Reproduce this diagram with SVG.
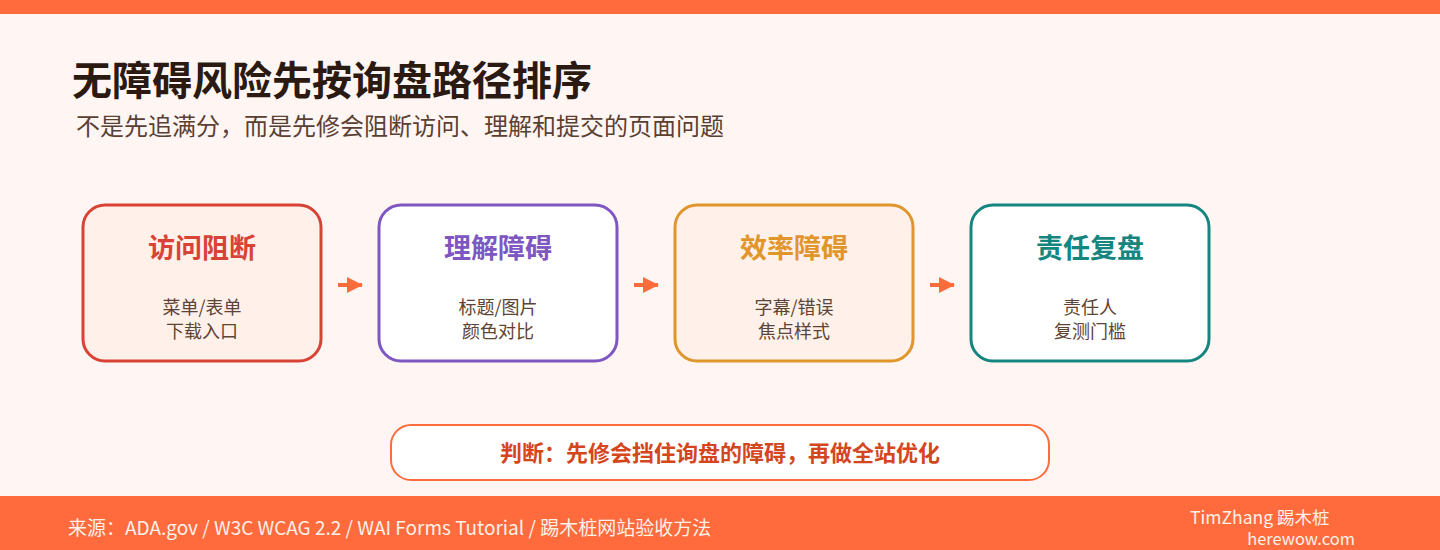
<svg xmlns="http://www.w3.org/2000/svg" width="1440" height="550" viewBox="0 0 1440 550">
<defs>
<style>
text{font-family:"Noto Sans CJK SC","Noto Sans",sans-serif}
.box{stroke-width:3}
.t{font-size:27px;font-weight:700;text-anchor:middle}
.s{font-size:18px;fill:#5E4434;text-anchor:middle}
.arr{stroke:#FF6B3D;stroke-width:4;fill:none}
</style>
<marker id="ah" markerWidth="4" markerHeight="4" refX="3.8" refY="2" orient="auto" markerUnits="strokeWidth" viewBox="0 0 4 4">
<path d="M0,0 L4,2 L0,4 Z" fill="#FF6B3D"/>
</marker>
</defs>
<rect width="1440" height="550" fill="#FFF6F3"/>
<rect width="1440" height="14" fill="#FF6B3D"/>
<g id="header">
<text x="72" y="95" font-size="40" font-weight="700" fill="#2B1A12">无障碍风险先按询盘路径排序</text>
<text x="76" y="135" font-size="24" fill="#5A4033">不是先追满分，而是先修会阻断访问、理解和提交的页面问题</text>
</g>
<g id="node-access">
<rect class="box" x="83" y="205" width="238" height="156" rx="22" fill="#FFF0EA" stroke="#D84335"/>
<text class="t" x="202" y="258" fill="#D84335">访问阻断</text>
<text class="s" x="202" y="314">菜单/表单</text>
<text class="s" x="202" y="338">下载入口</text>
</g>
<g id="node-understand">
<rect class="box" x="379" y="205" width="238" height="156" rx="22" fill="#FFFFFF" stroke="#7E57C2"/>
<text class="t" x="498" y="258" fill="#7E57C2">理解障碍</text>
<text class="s" x="498" y="314">标题/图片</text>
<text class="s" x="498" y="338">颜色对比</text>
</g>
<g id="node-efficiency">
<rect class="box" x="675" y="205" width="238" height="156" rx="22" fill="#FFF0EA" stroke="#E0962A"/>
<text class="t" x="794" y="258" fill="#E0962A">效率障碍</text>
<text class="s" x="794" y="314">字幕/错误</text>
<text class="s" x="794" y="338">焦点样式</text>
</g>
<g id="node-review">
<rect class="box" x="971" y="205" width="238" height="156" rx="22" fill="#FFFFFF" stroke="#158580"/>
<text class="t" x="1090" y="258" fill="#158580">责任复盘</text>
<text class="s" x="1090" y="314">责任人</text>
<text class="s" x="1090" y="338">复测门槛</text>
</g>
<g id="connectors">
<line class="arr" x1="338" y1="285" x2="362" y2="285" marker-end="url(#ah)"/>
<line class="arr" x1="634" y1="285" x2="658" y2="285" marker-end="url(#ah)"/>
<line class="arr" x1="930" y1="285" x2="954" y2="285" marker-end="url(#ah)"/>
</g>
<g id="judgment">
<rect x="391" y="425" width="658" height="55" rx="20" fill="#FFFFFF" stroke="#FF6B3D" stroke-width="2"/>
<text x="720" y="461" font-size="22" font-weight="700" fill="#D4461D" text-anchor="middle">判断：先修会挡住询盘的障碍，再做全站优化</text>
</g>
<rect y="496" width="1440" height="54" fill="#FF6B3D"/>
<g id="footer">
<text x="68" y="535" font-size="19" fill="#FFF1EA">来源：ADA.gov / W3C WCAG 2.2 / WAI Forms Tutorial / 踢木桩网站验收方法</text>
<text x="1190" y="524" font-size="17.5" fill="#FFF1EA">TimZhang 踢木桩</text>
<text x="1355" y="545" font-size="16.5" fill="#FFF1EA" text-anchor="end">herewow.com</text>
</g>
</svg>
